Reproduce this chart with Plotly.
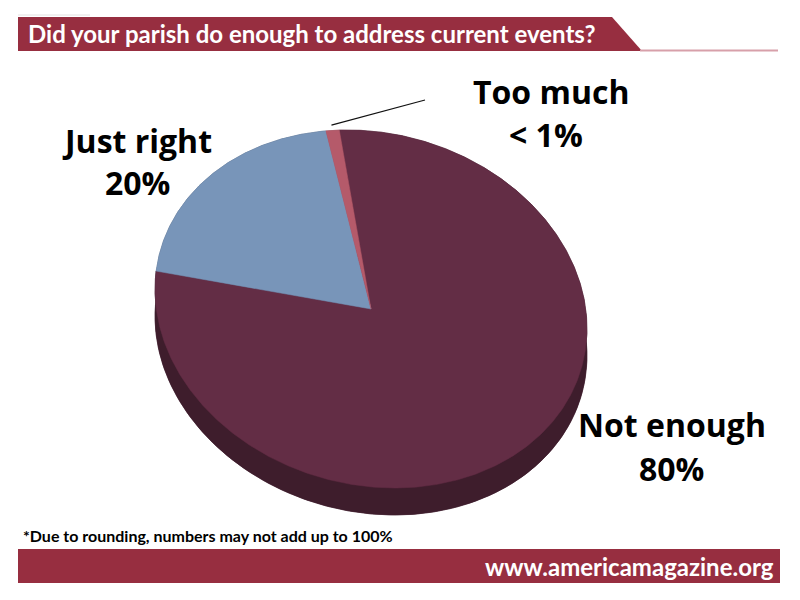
import numpy as np
import plotly.graph_objects as go

# ---------------- data ----------------
categories = ["Not enough", "Just right", "Too much"]
values = [79, 20, 1]
pct_labels = ["80%", "20%", "< 1%"]

title_text = "Did your parish do enough to address current events?"
footnote_text = "*Due to rounding, numbers may not add up to 100%"
site_text = "www.americamagazine.org"

# ---------------- styles / geometry ----------------
top_colors = ["#632d45", "#7895b9", "#b55a6a"]
side_colors = ["#3e1d2c", "#4b5e78", "#7a3a46"]
BANNER = "#972e40"

CX, CY = 371, 309          # centre of top face (pixels)
A, B = 218.6, 175.8        # semi axes of top face
TILT = np.radians(15)      # clockwise tilt of the ellipse
DEPTH = 27                 # thickness of the pie
START = 110.6              # start angle (deg) of first slice, slices run clockwise

label_pos = {
    "Not enough": [(672, 424), (671, 468)],
    "Just right": [(137, 140), (137, 182)],
    "Too much": [(551, 91), (546, 134)],
}


def ell(t_deg, dy=0.0, scale=1.0):
    t = np.radians(t_deg)
    lx = scale * A * np.cos(t)
    ly = scale * B * np.sin(t)
    mx = lx * np.cos(TILT) + ly * np.sin(TILT)
    my = -lx * np.sin(TILT) + ly * np.cos(TILT)
    return CX + mx, CY - my + dy


fig = go.Figure()

total = float(sum(values))
angles = []
a0 = START
for v in values:
    a1 = a0 - 360.0 * v / total
    angles.append((a0, a1))
    a0 = a1

# sides (bottom wedges + bands)
for (t0, t1), col in zip(angles, side_colors):
    ts = np.linspace(t0, t1, max(4, int(abs(t1 - t0) * 2)))
    bx, by = ell(ts, dy=DEPTH)
    fig.add_trace(go.Scatter(x=np.r_[CX, bx, CX], y=np.r_[CY + DEPTH, by, CY + DEPTH],
                             fill="toself", fillcolor=col, mode="lines",
                             line=dict(color=col, width=0.5), hoverinfo="skip", showlegend=False))
    tx, ty = ell(ts)
    fig.add_trace(go.Scatter(x=np.r_[tx, bx[::-1], tx[0]], y=np.r_[ty, by[::-1], ty[0]],
                             fill="toself", fillcolor=col, mode="lines",
                             line=dict(color=col, width=0.5), hoverinfo="skip", showlegend=False))

# top faces
for (t0, t1), col, name in zip(angles, top_colors, categories):
    ts = np.linspace(t0, t1, max(4, int(abs(t1 - t0) * 2)))
    tx, ty = ell(ts)
    fig.add_trace(go.Scatter(x=np.r_[CX, tx, CX], y=np.r_[CY, ty, CY],
                             fill="toself", fillcolor=col, mode="lines", name=name,
                             line=dict(color=col, width=0.5), hoverinfo="skip", showlegend=False))

# leader line for the small slice
tm = 0.5 * (angles[2][0] + angles[2][1])
lx0, ly0 = ell(tm, scale=1.03)
fig.add_trace(go.Scatter(x=[lx0, 425], y=[ly0, 100], mode="lines",
                         line=dict(color="#111111", width=1.2), hoverinfo="skip", showlegend=False))

annotations = []
LABEL_FONT = dict(family="Open Sans", size=32, color="#000000", weight="bold")
for name, pct in zip(categories, pct_labels):
    (x1, y1), (x2, y2) = label_pos[name]
    annotations.append(dict(x=x1, y=y1, xref="x", yref="y", text=name, showarrow=False,
                            font=LABEL_FONT, xanchor="center", yanchor="middle"))
    annotations.append(dict(x=x2, y=y2, xref="x", yref="y", text=pct, showarrow=False,
                            font=LABEL_FONT, xanchor="center", yanchor="middle"))

annotations.append(dict(x=26, y=33, xref="x", yref="y", text=title_text, showarrow=False,
                        font=dict(family="Lato", size=24, color="white", weight="bold"),
                        xanchor="left", yanchor="middle"))
annotations.append(dict(x=21, y=535, xref="x", yref="y", text=footnote_text, showarrow=False,
                        font=dict(family="Lato", size=16, color="black", weight="bold"),
                        xanchor="left", yanchor="middle"))
annotations.append(dict(x=776, y=566, xref="x", yref="y", text=site_text, showarrow=False,
                        font=dict(family="Lato", size=24, color="white", weight="bold"),
                        xanchor="right", yanchor="middle"))

shapes = [
    dict(type="line", xref="x", yref="y", x0=18, x1=90, y0=15, y1=15,
         line=dict(color="#e2e2e2", width=1), layer="below"),
    dict(type="path", xref="x", yref="y", path="M 18 17 L 612 17 L 642 51 L 18 51 Z",
         fillcolor=BANNER, line=dict(width=0), layer="below"),
    dict(type="line", xref="x", yref="y", x0=640, x1=778, y0=50.5, y1=50.5,
         line=dict(color="#d7a0aa", width=2), layer="below"),
    dict(type="rect", xref="x", yref="y", x0=18, x1=780, y0=549, y1=583,
         fillcolor=BANNER, line=dict(width=0), layer="below"),
]

fig.update_layout(
    width=800, height=600,
    margin=dict(l=0, r=0, t=0, b=0),
    paper_bgcolor="white", plot_bgcolor="white",
    xaxis=dict(range=[0, 800], visible=False, fixedrange=True),
    yaxis=dict(range=[600, 0], visible=False, fixedrange=True),
    annotations=annotations, shapes=shapes,
)

fig.write_html("out.html", config={"displayModeBar": False},
               post_script="document.body.style.margin='0';document.body.style.overflow='hidden';")
